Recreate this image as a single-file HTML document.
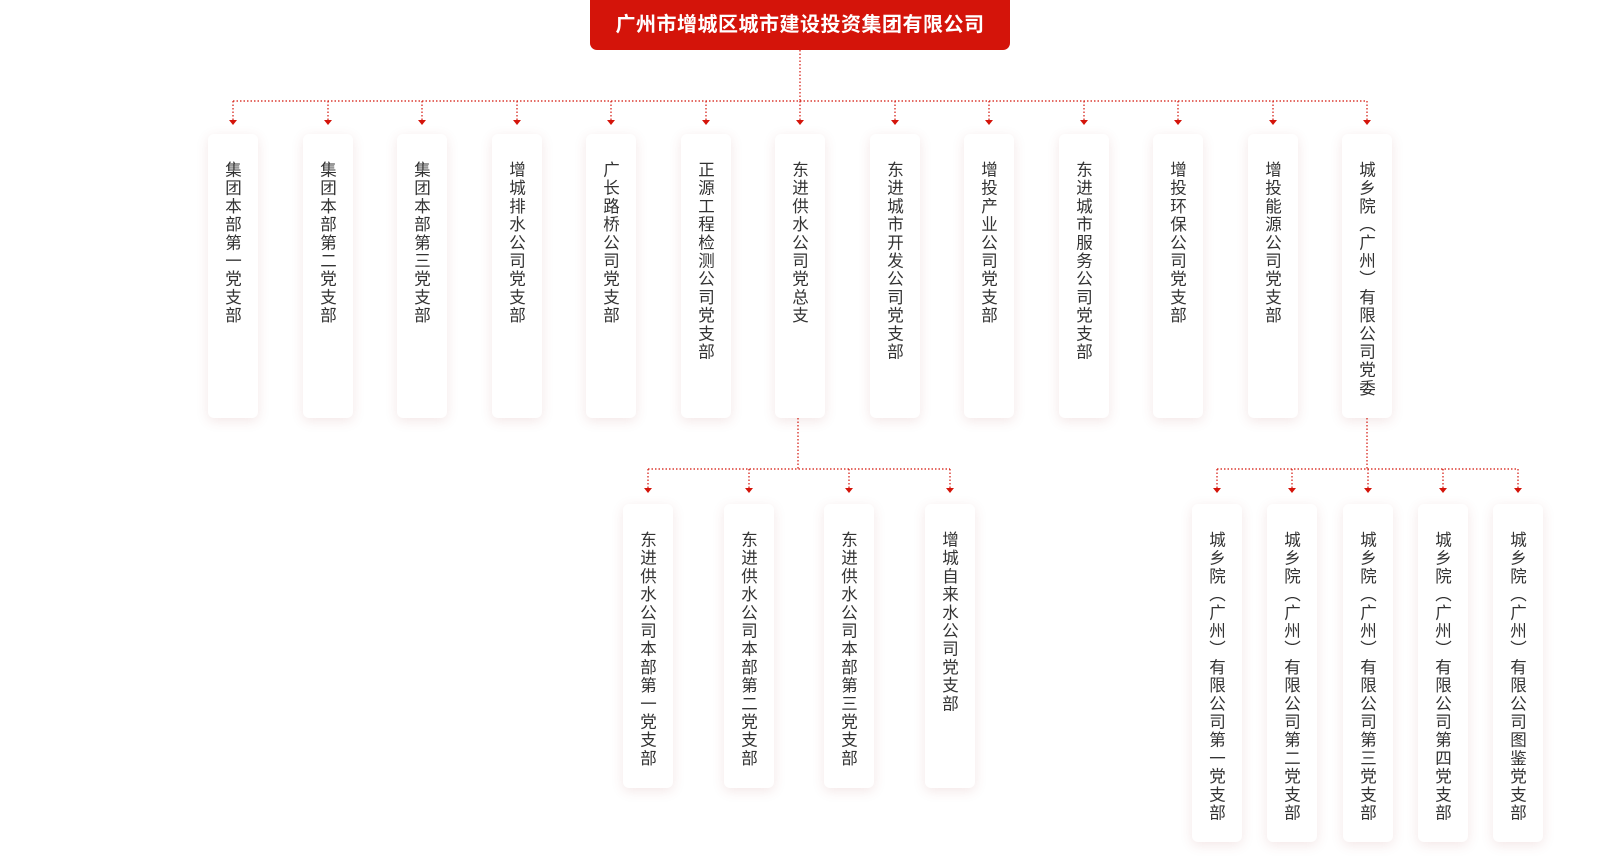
<!DOCTYPE html>
<html><head><meta charset="utf-8">
<style>
body{margin:0;width:1600px;height:856px;background:#fff;position:relative;overflow:hidden;font-family:"Liberation Sans","Noto Sans CJK SC",sans-serif;}
.top{position:absolute;left:590px;top:0;width:420px;height:50px;background:#d4140a;border-radius:0 0 7px 7px;color:#fff;font-weight:bold;font-size:20px;line-height:50px;text-align:center;letter-spacing:0.5px;}
.c{position:absolute;width:50px;background:#fff;border-radius:6px;box-shadow:0 3px 12px rgba(160,60,60,0.13);box-sizing:border-box;padding-top:27px;}
.c span{display:block;margin:0 auto;writing-mode:vertical-rl;font-size:16.5px;letter-spacing:1.7px;color:#333;line-height:50px;width:50px;position:relative;left:-1.5px;}
svg{position:absolute;left:0;top:0;}
</style></head><body>
<div class="top">广州市增城区城市建设投资集团有限公司</div>
<svg width="1600" height="856">
<g stroke="#d4140a" stroke-width="1.2" stroke-dasharray="1.5 2" fill="none">
<line x1="800" y1="50" x2="800" y2="101"/>
<line x1="233" y1="101" x2="1367" y2="101"/>
<line x1="798" y1="418" x2="798" y2="469"/>
<line x1="648" y1="469" x2="950" y2="469"/>
<line x1="1367" y1="418" x2="1367" y2="469"/>
<line x1="1217" y1="469" x2="1518" y2="469"/>
</g>
<g id="arr"></g>
</svg>
<div id="cards"></div>
<script>
var svg=document.querySelector('#arr'),cards=document.getElementById('cards');
function add(cx,y1,y2,top,bot,txt){
 var l=document.createElementNS('http://www.w3.org/2000/svg','line');
 l.setAttribute('x1',cx);l.setAttribute('x2',cx);l.setAttribute('y1',y1);l.setAttribute('y2',y2-4);
 l.setAttribute('stroke','#d4140a');l.setAttribute('stroke-width','1.2');l.setAttribute('stroke-dasharray','1.5 2');svg.appendChild(l);
 var p=document.createElementNS('http://www.w3.org/2000/svg','polygon');
 p.setAttribute('points',(cx-4)+','+(y2-5)+' '+(cx+4)+','+(y2-5)+' '+cx+','+y2);p.setAttribute('fill','#d4140a');svg.appendChild(p);
 var d=document.createElement('div');d.className='c';d.style.left=(cx-25)+'px';d.style.top=top+'px';d.style.height=(bot-top)+'px';
 d.innerHTML='<span>'+txt+'</span>';cards.appendChild(d);
}
var t1=['集团本部第一党支部','集团本部第二党支部','集团本部第三党支部','增城排水公司党支部','广长路桥公司党支部','正源工程检测公司党支部','东进供水公司党总支','东进城市开发公司党支部','增投产业公司党支部','东进城市服务公司党支部','增投环保公司党支部','增投能源公司党支部','城乡院（广州）有限公司党委'];
for(var i=0;i<13;i++)add(Math.round(233+i*94.5),101,125,134,418,t1[i]);
var t2=['东进供水公司本部第一党支部','东进供水公司本部第二党支部','东进供水公司本部第三党支部','增城自来水公司党支部'];
var x2=[648,749,849,950];
for(i=0;i<4;i++)add(x2[i],469,493,504,788,t2[i]);
var t3=['城乡院（广州）有限公司第一党支部','城乡院（广州）有限公司第二党支部','城乡院（广州）有限公司第三党支部','城乡院（广州）有限公司第四党支部','城乡院（广州）有限公司图鉴党支部'];
for(i=0;i<5;i++)add(Math.round(1217+i*75.25),469,493,504,842,t3[i]);
</script>
</body></html>
